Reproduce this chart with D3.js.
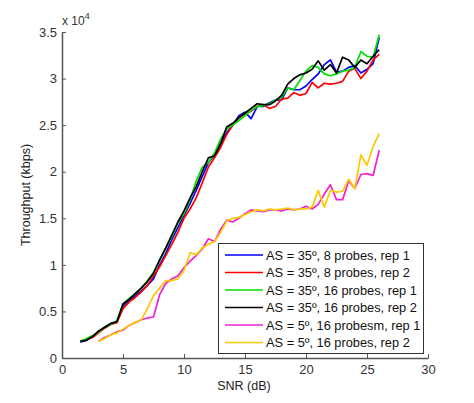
<!DOCTYPE html>
<html><head><meta charset="utf-8">
<script src="https://cdn.jsdelivr.net/npm/d3@7.9.0/dist/d3.min.js"></script>
<style>body{margin:0;background:#fff}svg{display:block;font-family:"Liberation Sans",Arial,sans-serif}</style>
</head><body><svg width="474" height="403"></svg>
<script>
// SNR grid (dB)
const snrHi=[1.5,2,2.5,3,3.5,4,4.5,5,5.5,6,6.5,7,7.5,8,8.5,9,9.5,10,10.5,11,11.5,12,12.5,13,13.5,14,14.5,15,15.5,16,16.5,17,17.5,18,18.5,19,19.5,20,20.5,21,21.5,22,22.5,23,23.5,24,24.5,25,25.5,26];
const snrLo=[3,3.5,4,4.5,5,5.5,6,6.5,7,7.5,8,8.5,9,9.5,10,10.5,11,11.5,12,12.5,13,13.5,14,14.5,15,15.5,16,16.5,17,17.5,18,18.5,19,19.5,20,20.5,21,21.5,22,22.5,23,23.5,24,24.5,25,25.5,26];
// throughput, x 10^4 kbps
const as35p8r1=[.17,.19,.23,.28,.33,.37,.39,.56,.62,.67,.72,.78,.85,1.0,1.12,1.27,1.4,1.53,1.66,1.8,1.95,2.1,2.18,2.3,2.42,2.5,2.6,2.64,2.57,2.7,2.7,2.74,2.77,2.77,2.9,2.88,2.88,2.92,2.99,3.05,3.15,3.2,3.07,3.08,3.12,3.14,3.06,3.1,3.16,3.44];
const as35p8r2=[.18,.2,.22,.27,.32,.36,.38,.53,.6,.65,.71,.78,.88,.98,1.1,1.22,1.35,1.5,1.6,1.72,1.88,2.05,2.15,2.26,2.4,2.5,2.58,2.62,2.65,2.7,2.72,2.68,2.7,2.78,2.79,2.85,2.82,2.84,2.96,2.9,2.95,2.94,2.95,2.97,3.08,3.11,3.0,3.08,3.2,3.26];
const as35p16r1=[.18,.21,.24,.28,.33,.36,.4,.58,.64,.69,.75,.83,.92,1.05,1.18,1.3,1.45,1.55,1.7,1.9,2.05,2.1,2.2,2.35,2.46,2.5,2.55,2.6,2.66,2.7,2.71,2.73,2.77,2.8,2.9,2.88,2.98,3.08,3.14,3.12,3.05,3.03,3.05,3.08,3.09,3.12,3.29,3.24,3.23,3.47];
const as35p16r2=[.18,.19,.23,.29,.33,.37,.39,.58,.63,.69,.75,.82,.91,1.05,1.18,1.32,1.46,1.58,1.72,1.84,2.0,2.15,2.17,2.3,2.48,2.52,2.58,2.63,2.68,2.73,2.72,2.72,2.76,2.82,2.94,3.0,3.04,3.06,3.1,3.19,3.09,3.15,3.06,3.23,3.2,3.12,3.2,3.16,3.24,3.31];
const as5p16r1=[.18,.22,.25,.28,.3,.35,.38,.41,.43,.44,.68,.8,.85,.88,.97,1.04,1.1,1.17,1.28,1.25,1.38,1.48,1.46,1.5,1.55,1.59,1.58,1.57,1.59,1.59,1.58,1.6,1.59,1.6,1.63,1.6,1.65,1.76,1.86,1.7,1.7,1.9,1.82,1.97,1.98,1.96,2.23];
const as5p16r2=[.18,.21,.25,.27,.31,.35,.38,.41,.53,.67,.75,.83,.83,.85,.94,1.13,1.11,1.18,1.22,1.25,1.35,1.47,1.5,1.51,1.54,1.57,1.59,1.58,1.6,1.59,1.6,1.61,1.59,1.6,1.6,1.62,1.8,1.62,1.8,1.78,1.79,1.92,1.82,2.18,2.07,2.27,2.41];
const labels=["AS = 35º, 8 probes, rep 1","AS = 35º, 8 probes, rep 2","AS = 35º, 16 probes, rep 1","AS = 35º, 16 probes, rep 2","AS = 5º, 16 probesm, rep 1","AS = 5º, 16 probes, rep 2"];
const colors=["#0000ff","#ff0000","#00e000","#000000","#f020d0","#ffc800"];
const xTicks=[0,5,10,15,20,25,30];
const yTicks=[0,0.5,1,1.5,2,2.5,3,3.5];

const series=[[snrHi,as35p8r1],[snrHi,as35p8r2],[snrHi,as35p16r1],[snrHi,as35p16r2],[snrLo,as5p16r1],[snrLo,as5p16r2]];
const svg=d3.select('svg');
const x=d3.scaleLinear().domain([0,30]).range([62,428]);
const y=d3.scaleLinear().domain([0,3.5]).range([358,32]);
const axisCol='#555';

const gx=svg.append('g').attr('transform','translate(0,358)')
 .call(d3.axisBottom(x).tickValues(xTicks).tickFormat(d3.format('d')).tickSizeInner(-4).tickSizeOuter(0).tickPadding(7));
const gy=svg.append('g').attr('transform','translate(62,0)')
 .call(d3.axisLeft(y).tickValues(yTicks).tickFormat(d=>d===0?'0':d3.format('')(d)).tickSizeInner(-4).tickSizeOuter(0).tickPadding(5));
[gx,gy].forEach(g=>{g.select('.domain').attr('stroke',axisCol).attr('stroke-width',1.5);
 g.selectAll('.tick line').attr('stroke',axisCol);
 g.selectAll('.tick text').attr('fill','#333').style('font-size','13px');});

const line=d3.line().x(d=>x(d[0])).y(d=>y(d[1]));
series.forEach(([xs,ys],i)=>{
 svg.append('path').datum(xs.map((v,j)=>[v,ys[j]])).attr('d',line)
  .attr('fill','none').attr('stroke',colors[i]).attr('stroke-width',1.7).attr('stroke-linejoin','round');
});

svg.append('text').attr('x',62).attr('y',25).attr('fill','#333').style('font-size','12px')
 .text('x 10').append('tspan').attr('dy',-6).style('font-size','9px').text('4');
svg.append('text').attr('transform','translate(30,195) rotate(-90)').attr('text-anchor','middle')
 .attr('fill','#222').style('font-size','12.5px').text('Throughput (kbps)');
svg.append('text').attr('x',244).attr('y',390).attr('text-anchor','middle')
 .attr('fill','#222').style('font-size','12.5px').text('SNR (dB)');

const lg=svg.append('g');
lg.append('rect').attr('x',218.5).attr('y',243.5).attr('width',205).attr('height',110)
 .attr('fill','#fff').attr('stroke','#333').attr('stroke-width',1);
labels.forEach((t,i)=>{const cy=255+i*17.5;
 lg.append('line').attr('x1',225).attr('x2',263).attr('y1',cy).attr('y2',cy).attr('stroke',colors[i]).attr('stroke-width',1.5);
 lg.append('text').attr('x',266).attr('y',cy+4.5).attr('fill','#111').style('font-size','12.8px').text(t);
});
</script></body></html>
